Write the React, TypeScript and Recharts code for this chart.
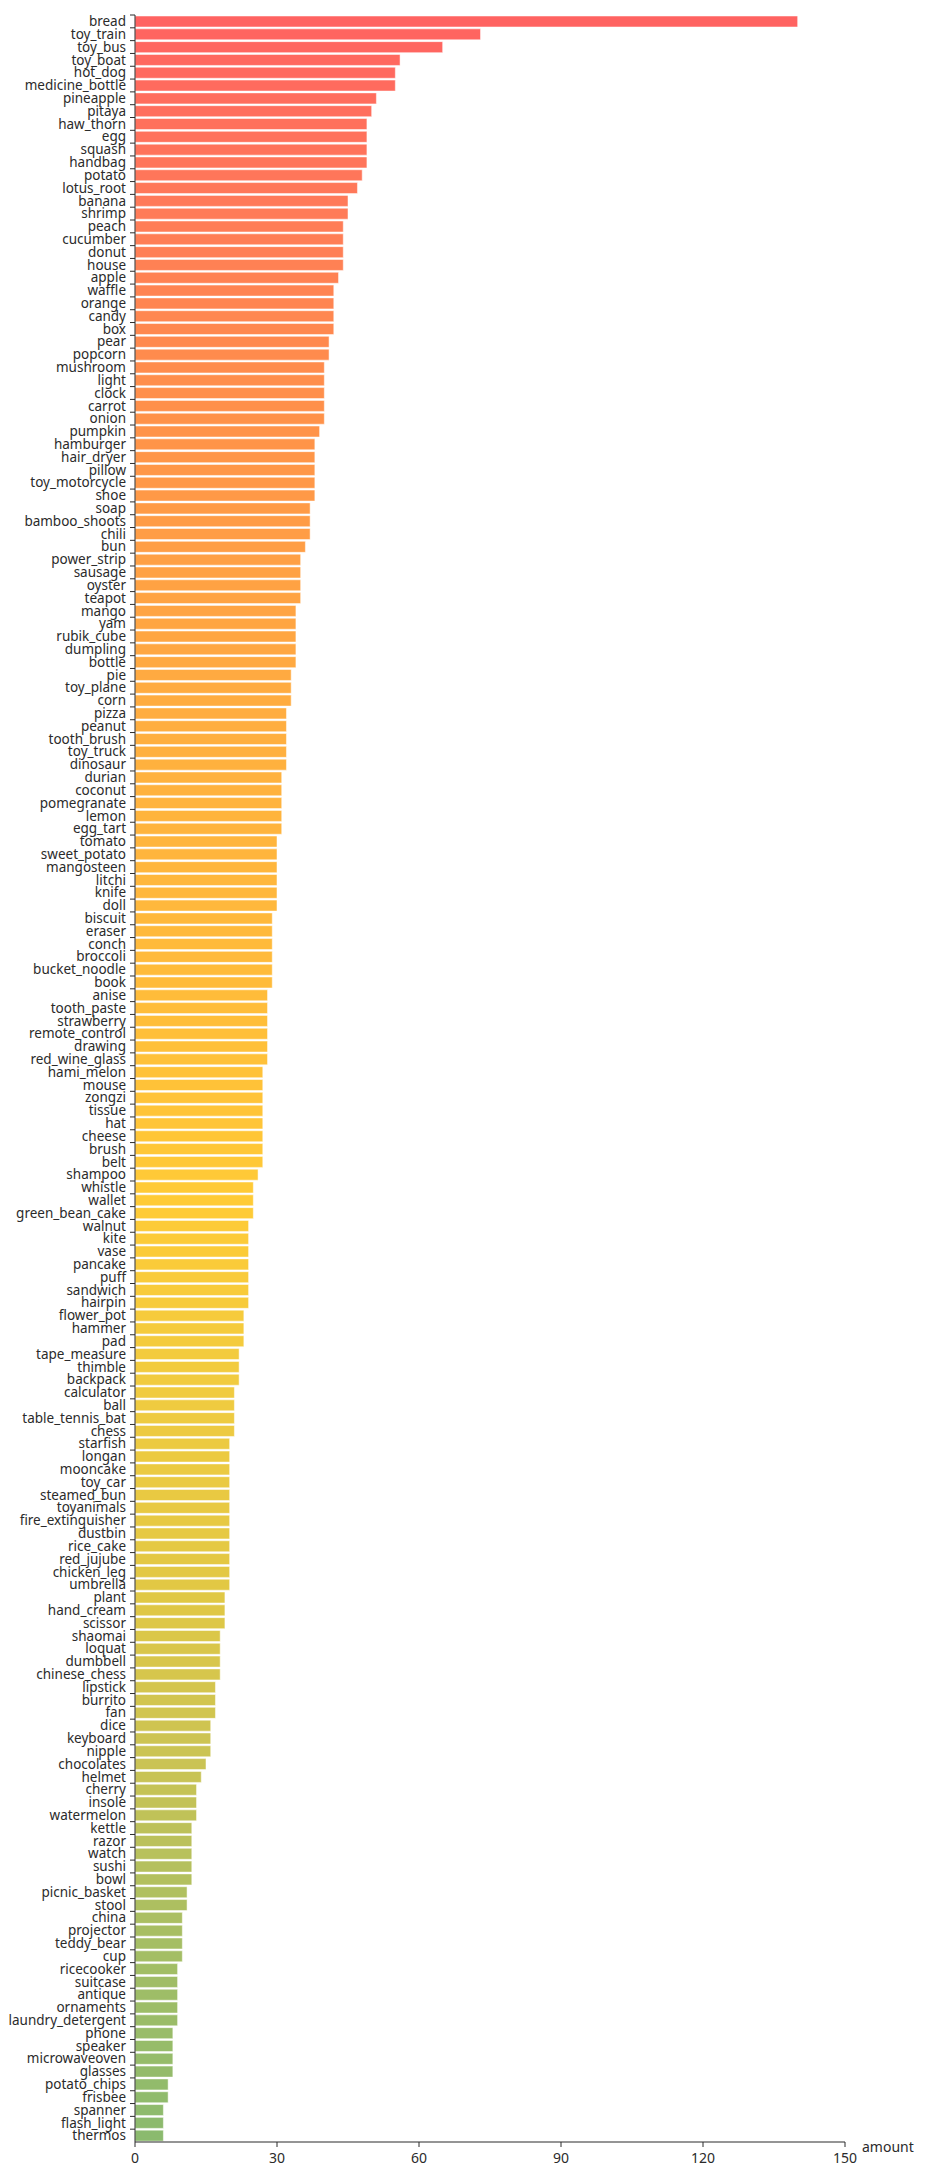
import { BarChart, Bar, XAxis, YAxis, Cell, Label } from 'recharts';

const categories = [
  'bread', 'toy_train', 'toy_bus', 'toy_boat', 'hot_dog', 'medicine_bottle', 'pineapple', 'pitaya',
  'haw_thorn', 'egg', 'squash', 'handbag', 'potato', 'lotus_root', 'banana', 'shrimp', 'peach',
  'cucumber', 'donut', 'house', 'apple', 'waffle', 'orange', 'candy', 'box', 'pear', 'popcorn',
  'mushroom', 'light', 'clock', 'carrot', 'onion', 'pumpkin', 'hamburger', 'hair_dryer', 'pillow',
  'toy_motorcycle', 'shoe', 'soap', 'bamboo_shoots', 'chili', 'bun', 'power_strip', 'sausage',
  'oyster', 'teapot', 'mango', 'yam', 'rubik_cube', 'dumpling', 'bottle', 'pie', 'toy_plane', 'corn',
  'pizza', 'peanut', 'tooth_brush', 'toy_truck', 'dinosaur', 'durian', 'coconut', 'pomegranate',
  'lemon', 'egg_tart', 'tomato', 'sweet_potato', 'mangosteen', 'litchi', 'knife', 'doll', 'biscuit',
  'eraser', 'conch', 'broccoli', 'bucket_noodle', 'book', 'anise', 'tooth_paste', 'strawberry',
  'remote_control', 'drawing', 'red_wine_glass', 'hami_melon', 'mouse', 'zongzi', 'tissue', 'hat',
  'cheese', 'brush', 'belt', 'shampoo', 'whistle', 'wallet', 'green_bean_cake', 'walnut', 'kite',
  'vase', 'pancake', 'puff', 'sandwich', 'hairpin', 'flower_pot', 'hammer', 'pad', 'tape_measure',
  'thimble', 'backpack', 'calculator', 'ball', 'table_tennis_bat', 'chess', 'starfish', 'longan',
  'mooncake', 'toy_car', 'steamed_bun', 'toyanimals', 'fire_extinguisher', 'dustbin', 'rice_cake',
  'red_jujube', 'chicken_leg', 'umbrella', 'plant', 'hand_cream', 'scissor', 'shaomai', 'loquat',
  'dumbbell', 'chinese_chess', 'lipstick', 'burrito', 'fan', 'dice', 'keyboard', 'nipple',
  'chocolates', 'helmet', 'cherry', 'insole', 'watermelon', 'kettle', 'razor', 'watch', 'sushi',
  'bowl', 'picnic_basket', 'stool', 'china', 'projector', 'teddy_bear', 'cup', 'ricecooker',
  'suitcase', 'antique', 'ornaments', 'laundry_detergent', 'phone', 'speaker', 'microwaveoven',
  'glasses', 'potato_chips', 'frisbee', 'spanner', 'flash_light', 'thermos',
];

const amounts = [
  140, 73, 65, 56, 55, 55, 51, 50,
  49, 49, 49, 49, 48, 47, 45, 45, 44,
  44, 44, 44, 43, 42, 42, 42, 42, 41, 41,
  40, 40, 40, 40, 40, 39, 38, 38, 38,
  38, 38, 37, 37, 37, 36, 35, 35,
  35, 35, 34, 34, 34, 34, 34, 33, 33, 33,
  32, 32, 32, 32, 32, 31, 31, 31,
  31, 31, 30, 30, 30, 30, 30, 30, 29,
  29, 29, 29, 29, 29, 28, 28, 28,
  28, 28, 28, 27, 27, 27, 27, 27,
  27, 27, 27, 26, 25, 25, 25, 24, 24,
  24, 24, 24, 24, 24, 23, 23, 23, 22,
  22, 22, 21, 21, 21, 21, 20, 20,
  20, 20, 20, 20, 20, 20, 20,
  20, 20, 20, 19, 19, 19, 18, 18,
  18, 18, 17, 17, 17, 16, 16, 16,
  15, 14, 13, 13, 13, 12, 12, 12, 12,
  12, 11, 11, 10, 10, 10, 10, 9,
  9, 9, 9, 9, 8, 8, 8,
  8, 7, 7, 6, 6, 6,
];

const xTicks = [0, 30, 60, 90, 120, 150];

const data = categories.map((name, i) => ({ name, amount: amounts[i] }));

// colour ramp red -> orange -> yellow -> green
const stops: [number, number[]][] = [
  [0, [255, 99, 97]],
  [0.09, [255, 123, 88]],
  [0.18, [255, 144, 74]],
  [0.27, [255, 163, 67]],
  [0.36, [255, 178, 62]],
  [0.46, [255, 188, 58]],
  [0.56, [255, 203, 54]],
  [0.65, [240, 203, 64]],
  [0.74, [226, 200, 68]],
  [0.83, [200, 195, 85]],
  [0.91, [165, 190, 100]],
  [1, [139, 186, 110]],
];

const colorAt = (t: number) => {
  for (let k = 1; k < stops.length; k++) {
    const [t1, c1] = stops[k];
    const [t0, c0] = stops[k - 1];
    if (t <= t1) {
      const f = (t - t0) / (t1 - t0);
      const c = c0.map((v, j) => Math.round(v + (c1[j] - v) * f));
      return `rgb(${c[0]},${c[1]},${c[2]})`;
    }
  }
  return 'rgb(139,186,110)';
};

const W = 909;
const H = 2165;
const TOP = 7;
const Y_W = 127;
const X_H = 30;
const BOTTOM = 1;
const BAND = (H - TOP - X_H - BOTTOM) / categories.length;
const TEXT = '#2b2b2b';
const FONT = '"Noto Sans", Arial, sans-serif';

const YTick = ({ y, payload }: any) => (
  <g>
    <line x1={Y_W - 5} x2={Y_W} y1={y - BAND / 2} y2={y - BAND / 2} stroke={TEXT} />
    <text x={Y_W - 9} y={y} dy="0.35em" textAnchor="end" fill={TEXT} fontSize={13.5} fontFamily={FONT}>
      {payload.value}
    </text>
  </g>
);

const AmountLabel = ({ viewBox }: any) => (
  <text x={viewBox.x + viewBox.width + 17} y={viewBox.y + 5} dy="0.35em" fill={TEXT} fontSize={14} fontFamily={FONT}>
    amount
  </text>
);

export default function App() {
  return (
    <BarChart
      width={W}
      height={H}
      data={data}
      layout="vertical"
      margin={{ top: TOP, right: 72, bottom: BOTTOM, left: 0 }}
    >
      <XAxis
        type="number"
        domain={[0, 150]}
        ticks={xTicks}
        height={X_H}
        stroke={TEXT}
        tickSize={5}
        tickMargin={6}
        tick={{ fill: TEXT, fontSize: 14, fontFamily: FONT }}
      >
        <Label content={AmountLabel} />
      </XAxis>
      <YAxis
        type="category"
        dataKey="name"
        width={Y_W}
        interval={0}
        stroke={TEXT}
        tickLine={false}
        tick={YTick}
      />
      <Bar dataKey="amount" barSize={11} stroke="#fff" strokeOpacity={0.5} isAnimationActive={false}>
        {data.map((d, i) => (
          <Cell key={d.name} fill={colorAt(i / (categories.length - 1))} />
        ))}
      </Bar>
    </BarChart>
  );
}
